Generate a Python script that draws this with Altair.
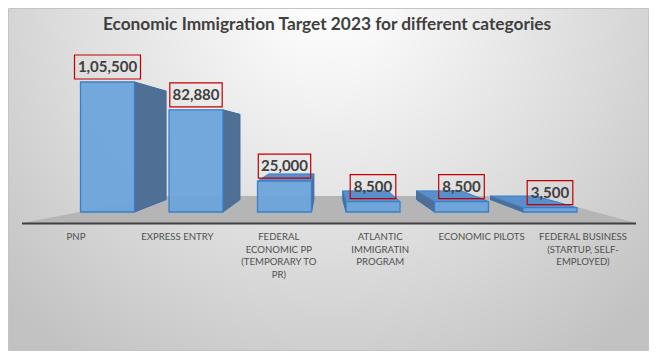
import altair as alt
import pandas as pd

# ---- data ----
categories = [
    "PNP",
    "EXPRESS ENTRY",
    "FEDERAL ECONOMIC PP (TEMPORARY TO PR)",
    "ATLANTIC IMMIGRATIN PROGRAM",
    "ECONOMIC PILOTS",
    "FEDERAL BUSINESS (STARTUP, SELF-EMPLOYED)",
]
axis_labels = [
    "PNP",
    "EXPRESS ENTRY",
    "FEDERAL\nECONOMIC PP\n(TEMPORARY TO\nPR)",
    "ATLANTIC\nIMMIGRATIN\nPROGRAM",
    "ECONOMIC PILOTS",
    "FEDERAL BUSINESS\n(STARTUP, SELF-\nEMPLOYED)",
]
targets = [105500, 82880, 25000, 8500, 8500, 3500]
value_labels = ["1,05,500", "82,880", "25,000", "8,500", "8,500", "3,500"]
title_text = "Economic Immigration Target 2023 for different categories"

# ---- tables built from the lists ----
W, H = 641, 343
df = pd.DataFrame({
    "category": categories,
    "axis_label": axis_labels,
    "target": targets,
    "value_label": value_labels,
})
box_w = [6.8 * len(s) + 11.6 for s in value_labels]
df["box_shape"] = [f"M-1,{-24 / w:.4f}H1V{24 / w:.4f}H-1Z" for w in box_w]
df["box_size"] = [w * w for w in box_w]
one = pd.DataFrame({"k": [0]})

# simple perspective projection of the 3-D columns (data space:
# x = category index, y = target value)
ymax = max(targets)
HW = 0.305          # half column width, in category steps
VP_I, VP_V, S = 2.469, 60865, 0.835   # vanishing point and depth scale

side_rows, top_rows = [], []
for i, (c, v) in enumerate(zip(categories, targets)):
    if i + HW < VP_I:
        edge = i + HW
    elif i - HW > VP_I:
        edge = i - HW
    else:
        edge = None
    if edge is not None:
        side_rows.append({"category": c, "xi": edge, "lo": 0, "hi": v})
        side_rows.append({"category": c, "xi": VP_I + (edge - VP_I) * S,
                          "lo": VP_V * (1 - S), "hi": VP_V + (v - VP_V) * S})
    if v < VP_V:
        top_rows.append({"category": c, "yv": v, "x1": i - HW, "x2": i + HW})
        top_rows.append({"category": c, "yv": VP_V + (v - VP_V) * S,
                         "x1": VP_I + (i - HW - VP_I) * S,
                         "x2": VP_I + (i + HW - VP_I) * S})
sides = pd.DataFrame(side_rows)
tops = pd.DataFrame(top_rows)

FONT = "Lato"

X0, X1 = 55.25, 586.25
x_front = alt.Scale(type="band", domain=categories, range=[X0, X1],
                    paddingInner=0.39, paddingOuter=0.195)
x_lin = alt.Scale(domain=[-0.5, len(categories) - 0.5], range=[X0, X1], nice=False, zero=False)
y_front = alt.Scale(domain=[0, ymax], range=[204, 74], nice=False)

bg = alt.Chart(one).mark_rect(
    fill=alt.RadialGradient(
        gradient="radial",
        x1=0.5, y1=0.2, r1=0,
        x2=0.5, y2=0.2, r2=0.7,
        stops=[
            alt.GradientStop(color="#ffffff", offset=0),
            alt.GradientStop(color="#f8f8f8", offset=0.15),
            alt.GradientStop(color="#dcdcdc", offset=0.6),
            alt.GradientStop(color="#c2c2c2", offset=1),
        ],
    ),
    stroke="#c4c4c4", strokeWidth=1,
).encode(x=alt.value(0.5), x2=alt.value(W - 0.5), y=alt.value(0.5), y2=alt.value(H - 0.5))

floor = alt.Chart(one).mark_point(
    shape="M-1,0.044L-0.537,-0.044L0.674,-0.044L1,0.044Z",
    size=614 * 614, filled=True, fill="#b5b5b5", opacity=1, strokeWidth=0,
).encode(x=alt.value(321), y=alt.value(201.5))

axis_line = alt.Chart(one).mark_rule(color="#404040", strokeWidth=2.2).encode(
    x=alt.value(14), x2=alt.value(628), y=alt.value(215.5)
)

side_faces = alt.Chart(sides).mark_area(
    orient="vertical", color="#4f6f94", stroke="#3b6ea6", strokeWidth=1, opacity=1
).encode(
    x=alt.X("xi:Q", scale=x_lin, axis=None),
    y=alt.Y("lo:Q", scale=y_front, axis=None),
    y2="hi:Q",
    detail="category:N",
)

top_faces = alt.Chart(tops).mark_area(
    orient="horizontal", color="#5a8fc9", stroke="#3b7fc8", strokeWidth=1, opacity=1
).encode(
    y=alt.Y("yv:Q", scale=y_front, axis=None),
    x=alt.X("x1:Q", scale=x_lin, axis=None),
    x2="x2:Q",
    detail="category:N",
)

front = alt.Chart(df).mark_bar(
    fill="#6ca4db", fillOpacity=0.95, stroke="#3b7fc8", strokeWidth=1.3
).encode(
    x=alt.X("category:N", scale=x_front, axis=None, sort=categories),
    y=alt.Y("target:Q", scale=y_front, axis=None),
)

boxes = alt.Chart(df).mark_point(
    filled=False, color="#c00000", strokeWidth=1.2, opacity=1, yOffset=-15
).encode(
    x=alt.X("category:N", scale=x_front, axis=None, sort=categories),
    y=alt.Y("target:Q", scale=y_front, axis=None),
    shape=alt.Shape("box_shape:N", scale=None, legend=None),
    size=alt.Size("box_size:Q", scale=None, legend=None),
)

values = alt.Chart(df).mark_text(
    font=FONT, fontSize=15, fontWeight="bold", color="#404040",
    baseline="middle", align="center", yOffset=-15,
).encode(
    x=alt.X("category:N", scale=x_front, axis=None, sort=categories),
    y=alt.Y("target:Q", scale=y_front, axis=None),
    text="value_label:N",
)

xlabels = alt.Chart(df).mark_text(
    font=FONT, fontSize=9.6, color="#505050", lineBreak="\n", lineHeight=12.7,
    baseline="alphabetic", align="center",
).encode(
    x=alt.X("category:N", scale=alt.Scale(type="point", domain=categories,
                                          range=[17.3, 625.7], padding=0.5),
            axis=None, sort=categories),
    y=alt.value(232),
    text="axis_label:N",
)

title = alt.Chart(one).mark_text(
    text=title_text, font=FONT, fontSize=17.3, fontWeight="bold", color="#404040",
    baseline="alphabetic", align="center",
).encode(x=alt.value(319), y=alt.value(22))

chart = alt.layer(
    bg, floor, axis_line, side_faces, top_faces, front, boxes, values, xlabels, title
).resolve_scale(x="independent", y="independent").properties(
    width=W, height=H, autosize=alt.AutoSizeParams(type="none"), padding=0
).configure_view(stroke=None)

chart.save("out.html", embed_options={"renderer": "svg", "actions": False})
